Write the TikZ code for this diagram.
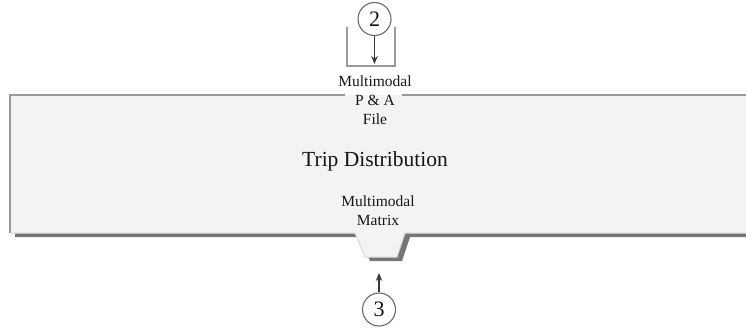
\documentclass[tikz,border=0pt]{standalone}
\usepackage{fontspec}
\setmainfont{Liberation Serif}
\usetikzlibrary{arrows.meta}
\definecolor{panelfill}{HTML}{F3F3F3}
\definecolor{edgegray}{HTML}{9A9A9A}
\definecolor{lowedge}{HTML}{D8D8D8}
\definecolor{shadowgray}{HTML}{767676}
\definecolor{ringgray}{HTML}{6A6A6A}
\definecolor{ink}{HTML}{151515}
\begin{document}
\begin{tikzpicture}[x=1pt,y=-1pt,
  panel/.style={fill=panelfill},
  dropshadow/.style={fill=shadowgray},
  rim/.style={draw=edgegray, line width=1.6pt},
  lowrim/.style={draw=lowedge, line width=1pt},
  tray/.style={draw=edgegray, line width=1.2pt},
  label/.style={font=\fontsize{15.5}{19}\selectfont, align=center, text=ink, inner sep=0pt},
  title/.style={font=\fontsize{21.5}{24}\selectfont, text=ink, inner sep=0pt},
  refcircle/.style={circle, draw=ringgray, line width=1.1pt, minimum size=33pt, inner sep=0pt,
    fill=white, font=\fontsize{22}{22}\selectfont, text=ink},
  flow/.style={-{Stealth[length=8pt,width=6.5pt]}, line width=1.1pt, draw=ink!85}]
\useasboundingbox (0,0) rectangle (746,327);
\clip (0,0) rectangle (746,327);

% shadow under the process panel
\fill[dropshadow, shift={(5,4)}] (10,95) -- (760,95) -- (760,233) -- (405,233) -- (397,257)
  -- (365,257) -- (355,233) -- (10,233) -- cycle;
% process panel with the output notch
\fill[panel] (10,95) -- (760,95) -- (760,233) -- (405,233) -- (397,257)
  -- (365,257) -- (355,233) -- (10,233) -- cycle;
% top edge, broken where the input label passes through
\draw[rim] (345,95) -- (10,95) -- (10,233);
\draw[rim] (402,95) -- (760,95);
\draw[lowrim] (10,233) -- (355,233) -- (365,257) -- (397,257) -- (405,233) -- (760,233);

% input tray
\draw[tray] (347,27) -- (347,66) -- (395,66) -- (395,27);

\node[label] (infile) at (375,100) {Multimodal\\P \& A\\File};
\node[title] (proc) at (375,161) {Trip Distribution};
\node[label] (outfile) at (378,211) {Multimodal\\Matrix};

\node[refcircle] (c2) at (374.5,19) {2};
\node[refcircle] (c3) at (379,309.5) {3};
\coordinate (intip) at (374.5,64);
\coordinate (outtip) at (379,273);

\draw[flow] (c2) -- (intip);
\draw[flow] (c3) -- (outtip);
\end{tikzpicture}
\end{document}
